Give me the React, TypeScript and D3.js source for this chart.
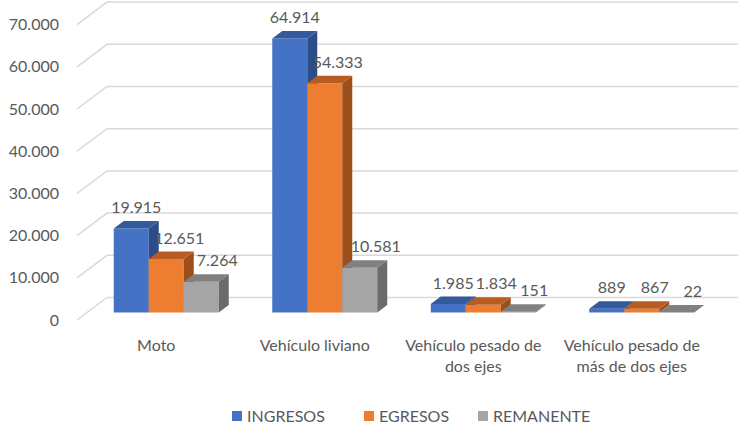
import * as d3 from "d3";

const categories = [
  "Moto",
  "Vehículo liviano",
  "Vehículo pesado de dos ejes",
  "Vehículo pesado de más de dos ejes",
];
const categoryLines = [
  ["Moto"],
  ["Vehículo liviano"],
  ["Vehículo pesado de", "dos ejes"],
  ["Vehículo pesado de", "más de dos ejes"],
];
const seriesNames = ["INGRESOS", "EGRESOS", "REMANENTE"];
const ingresos = [19915, 64914, 1985, 889];
const egresos = [12651, 54333, 1834, 867];
const remanente = [7264, 10581, 151, 22];
const yTicks = [0, 10000, 20000, 30000, 40000, 50000, 60000, 70000];

const seriesValues = [ingresos, egresos, remanente];
// front, top, side
const faceColors = [
  ["#4472C4", "#345A9E", "#2C4D87"],
  ["#ED7D31", "#B85C20", "#9C4E1B"],
  ["#A5A5A5", "#808080", "#6B6B6B"],
];
const labelNudge = [0, 8, 11];
const legendX = [232, 364, 478];

const W = 738;
const H = 426;
const DX = 30; // full depth offset
const DY = -22.5;
const Z0 = 1 / 3;
const Z1 = 2 / 3;
const FONT = "Lato, 'Open Sans', sans-serif";
const TEXT = "#595959";

const fmt = d3.formatLocale({
  decimal: ",",
  thousands: ".",
  grouping: [3],
  currency: ["", ""],
}).format(",");

export default function App() {
  const x = d3.scaleBand(categories, [77, 711]);
  const y = d3.scaleLinear([0, 70000], [320, 24.6]);
  const s = d3.scaleBand(seriesNames, [0, 105]);
  const bw = s.bandwidth();

  const proj = (px: number, v: number, z: number): [number, number] => [
    px + z * DX,
    y(v) + z * DY,
  ];
  const poly = (pts: [number, number][]) =>
    pts.map((p) => p.join(",")).join(" ");

  const [xl, xr] = x.range();

  return (
    <svg
      width={W}
      height={H}
      style={{ position: "absolute", left: 0, top: 0, background: "#fff" }}
      fontFamily={FONT}
    >
      {/* gridlines on wall */}
      <g fill="none" stroke="#D9D9D9" strokeWidth={1.5}>
        {yTicks.map((t) => (
          <polyline
            key={t}
            points={poly([proj(xl, t, 0), proj(xl, t, 1), proj(xr, t, 1)])}
          />
        ))}
      </g>

      {/* y labels */}
      <g fill={TEXT} fontSize={16} textAnchor="end">
        {yTicks.map((t) => (
          <text key={t} x={59} y={y(t)} dy="0.35em">
            {fmt(t)}
          </text>
        ))}
      </g>

      {/* bars */}
      {categories.map((c, ci) => {
        const gx = (x(c) as number) + (x.bandwidth() - 105) / 2;
        return (
          <g key={c}>
            {seriesNames.map((sn, si) => {
              const v = seriesValues[si][ci];
              const bx = gx + (s(sn) as number);
              const [front, top, side] = faceColors[si];
              return (
                <g key={sn}>
                  <polygon
                    fill={front}
                    points={poly([
                      proj(bx, 0, Z0),
                      proj(bx + bw, 0, Z0),
                      proj(bx + bw, v, Z0),
                      proj(bx, v, Z0),
                    ])}
                  />
                  <polygon
                    fill={side}
                    points={poly([
                      proj(bx + bw, 0, Z0),
                      proj(bx + bw, 0, Z1),
                      proj(bx + bw, v, Z1),
                      proj(bx + bw, v, Z0),
                    ])}
                  />
                  <polygon
                    fill={top}
                    points={poly([
                      proj(bx, v, Z0),
                      proj(bx + bw, v, Z0),
                      proj(bx + bw, v, Z1),
                      proj(bx, v, Z1),
                    ])}
                  />
                </g>
              );
            })}
          </g>
        );
      })}

      {/* data labels */}
      <g fill={TEXT} fontSize={16} textAnchor="middle">
        {categories.map((c, ci) => {
          const gx = (x(c) as number) + (x.bandwidth() - 105) / 2;
          return seriesNames.map((sn, si) => {
            const v = seriesValues[si][ci];
            const bx = gx + (s(sn) as number);
            const [px, py] = proj(bx + bw / 2, v, (Z0 + Z1) / 2);
            const [, backY] = proj(bx, v, Z1);
            return (
              <text
                key={c + sn}
                x={px + labelNudge[si]}
                y={Math.min(backY, py) - 8}
              >
                {fmt(v)}
              </text>
            );
          });
        })}
      </g>

      {/* category labels */}
      <g fill={TEXT} fontSize={16} textAnchor="middle">
        {categories.map((c, ci) => (
          <text key={c} x={(x(c) as number) + x.bandwidth() / 2} y={351}>
            {categoryLines[ci].map((line, li) => (
              <tspan
                key={li}
                x={(x(c) as number) + x.bandwidth() / 2}
                dy={li === 0 ? 0 : 21}
              >
                {line}
              </tspan>
            ))}
          </text>
        ))}
      </g>

      {/* legend */}
      <g fontSize={16} fill={TEXT}>
        {seriesNames.map((sn, si) => (
          <g key={sn} transform={`translate(${legendX[si]},411)`}>
            <rect width={10} height={10} fill={faceColors[si][0]} />
            <text x={15} y={5} dy="0.36em">
              {sn}
            </text>
          </g>
        ))}
      </g>
    </svg>
  );
}
